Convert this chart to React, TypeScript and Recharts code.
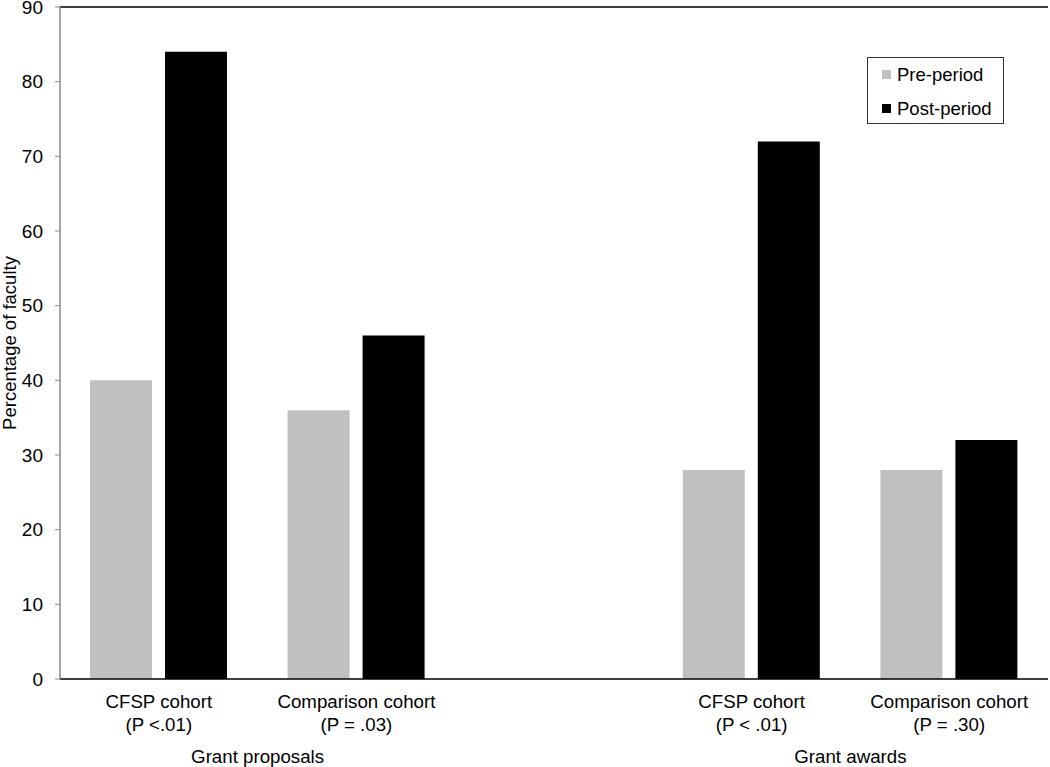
import { BarChart, Bar, XAxis, YAxis, Legend, ReferenceLine, Label } from "recharts"

const categories = ["CFSP cohort", "Comparison cohort", "", "CFSP cohort", "Comparison cohort"]
const pValues = ["(P <.01)", "(P = .03)", "", "(P < .01)", "(P = .30)"]
const prePeriod = [40, 36, null, 28, 28]
const postPeriod = [84, 46, null, 72, 32]
// group label sits between the category at this index and the next one
const groupLabels: Record<number, string> = { 0: "Grant proposals", 3: "Grant awards" }
const seriesNames = ["Pre-period", "Post-period"]
const yTicks = [0, 10, 20, 30, 40, 50, 60, 70, 80, 90]

const data = categories.map((name, i) => ({
  id: "c" + i,
  name,
  p: pValues[i],
  pre: prePeriod[i],
  post: postPeriod[i],
}))

const font = "'Liberation Sans', Arial, sans-serif"

function CohortTick(props: any) {
  const { x, y, index, payload, width, visibleTicksCount } = props
  const half = payload && payload.offset ? payload.offset : width / (2 * (visibleTicksCount || 5))
  const group = groupLabels[index]
  return (
    <g>
      <text x={x} y={y + 29} textAnchor="middle" fontSize={18.7} fontFamily={font} fill="#000">
        {categories[index]}
      </text>
      <text x={x} y={y + 52} textAnchor="middle" fontSize={18.7} fontFamily={font} fill="#000">
        {pValues[index]}
      </text>
      {group && (
        <text x={x + half} y={y + 84} textAnchor="middle" fontSize={18.7} fontFamily={font} fill="#000">
          {group}
        </text>
      )}
    </g>
  )
}

function LegendBox(props: any) {
  const items = [...(props.payload || [])].sort(
    (a: any, b: any) => seriesNames.indexOf(a.value) - seriesNames.indexOf(b.value)
  )
  return (
    <div style={{ border: "1px solid #333", width: 137, height: 67, boxSizing: "border-box", padding: "2px 0 0 14px", fontFamily: font, fontSize: 18.5, background: "#fff" }}>
      {items.map((item: any) => (
        <div key={item.value} style={{ display: "flex", alignItems: "center", height: 29, marginBottom: 5 }}>
          <span style={{ display: "inline-block", width: 9, height: 9, background: item.color, marginRight: 6 }} />
          <span>{item.value}</span>
        </div>
      ))}
    </div>
  )
}

export default function App() {
  return (
    <div style={{ position: "absolute", left: 0, top: 0, background: "#fff" }}>
      <BarChart width={1050} height={767} data={data} margin={{ top: 7, right: 2, bottom: 0, left: 0 }} barGap={13} barSize={62}>
        <XAxis dataKey="id" tick={<CohortTick />} tickLine={false} tickSize={0} tickMargin={0} height={88} axisLine={{ stroke: "#000", strokeWidth: 1.5 }} interval={0} />
        <YAxis domain={[0, 90]} ticks={yTicks} interval={0} width={60} tickSize={5} tickMargin={12} tickLine={{ stroke: "#888" }} axisLine={{ stroke: "#888", strokeWidth: 1.5 }} tick={{ fontSize: 19, fill: "#000", fontFamily: font }}>
          <Label value="Percentage of faculty" angle={-90} position="insideLeft" dx={4} style={{ textAnchor: "middle", fontSize: 18.5, fontFamily: font, fill: "#000" }} />
        </YAxis>
        <YAxis yAxisId="right" orientation="right" width={0} tick={false} tickLine={false} axisLine={{ stroke: "#000", strokeWidth: 1.5 }} domain={[0, 90]} />
        <ReferenceLine y={90} stroke="#000" strokeWidth={1.5} />
        <Legend layout="vertical" align="center" verticalAlign="middle" content={<LegendBox />} wrapperStyle={{ left: 867, top: 57, width: 137, height: 67 }} />
        <Bar dataKey="pre" name="Pre-period" fill="#c0c0c0" isAnimationActive={false} />
        <Bar dataKey="post" name="Post-period" fill="#000000" isAnimationActive={false} />
      </BarChart>
    </div>
  )
}
